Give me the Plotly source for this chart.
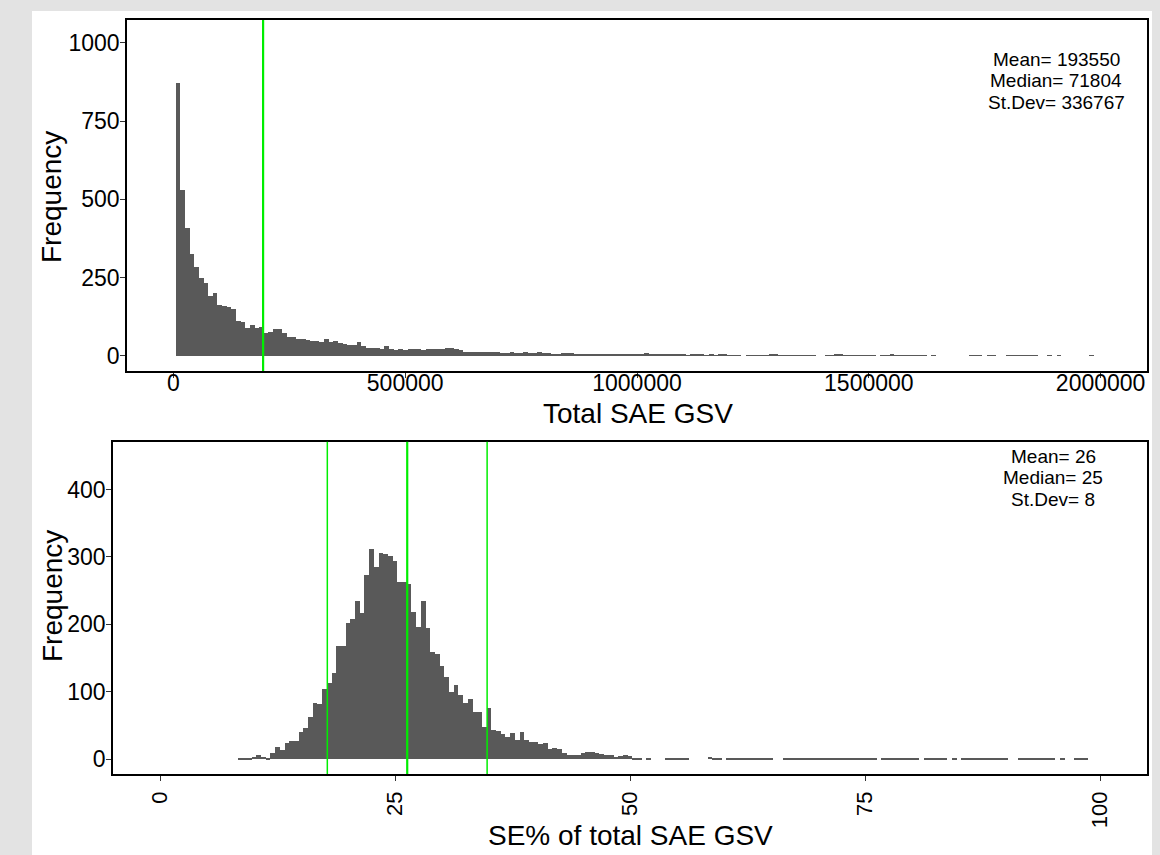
import plotly.graph_objects as go

# ---------------- data ----------------
# Top panel: histogram of Total SAE GSV (bin width 10000, first bin centred at 10000)
gsv_bin_width = 10000
gsv_first_center = 10000
gsv_counts = [
    873, 529, 407, 324, 284, 249, 233, 191, 199, 162,
    159, 155, 148, 111, 109, 87, 97, 87, 93, 71,
    76, 84, 85, 73, 61, 61, 52, 54, 50, 48,
    46, 45, 52, 44, 46, 39, 37, 35, 33, 44,
    31, 24, 24, 23, 20, 31, 20, 18, 21, 18,
    22, 22,
    20, 19, 21, 20, 22, 20, 25, 26, 22, 18,
    13, 12, 12, 11, 12, 11, 12, 11,
    10, 9, 11, 10, 9, 11, 10, 8, 12, 10,
    7, 6, 6, 8, 8, 7, 6, 6, 5, 6, 5,
    4, 4, 3, 4, 4, 3, 4,
    6, 5, 6, 7, 6, 5, 5, 4,
    3, 3, 4, 3, 2, 3, 3, 5, 2, 3, 2, 3, 4, 2, 1, 2, 0, 2,
    2, 2, 2, 1, 3, 3, 2, 1, 2, 1,
    2, 2, 1, 1, 0, 0, 1, 1, 3, 3,
    2, 1, 2, 1, 2, 1, 1, 0, 1, 2,
    3, 2, 1, 2, 2, 1, 1, 1, 0, 1,
    0, 0, 0, 0, 0, 0, 0, 1, 1, 1,
    0, 1, 1, 0, 0, 1, 1, 2, 1, 1,
    1, 1, 0, 0, 1, 0, 1, 0, 0, 0,
    0, 0, 0, 1,
]
gsv_mean = 193550
gsv_median = 71804
gsv_sd = 336767

# Bottom panel: histogram of SE% (bin width 0.5, first bin 8.25-8.75)
se_bin_width = 0.5
se_first_left = 8.25
se_counts = [
    1, 1, 1, 3, 6, 4, 2, 9, 18, 14,
    24, 28, 28, 41, 47, 63, 84, 83, 105, 114,
    129, 169, 169, 203, 209, 235, 218, 273, 313, 286,
    307, 305, 302, 295, 264, 264, 260, 219, 197, 235,
    195, 160, 156, 138, 123, 100, 110, 95, 84, 90,
    70, 70, 48, 76, 43, 42, 38, 33, 39, 29,
    41, 29, 26, 26, 23, 25, 16, 17, 15, 10,
    6, 6, 7, 9, 11, 11, 9, 8, 6, 6,
    4, 5, 6, 5, 1, 1, 0, 2, 0, 0,
    0, 1, 1, 2, 2, 2, 0, 0, 0, 0,
    4, 2, 2, 0, 1, 1, 1, 1, 1, 1,
    1, 1, 1, 1, 0, 0, 1, 1, 1, 1,
    1, 1, 1, 1, 1, 1, 1, 2, 1, 1,
    1, 2, 1, 1, 1, 1, 0, 1, 1, 1,
    1, 1, 1, 1, 1, 0, 1, 1, 1, 1,
    1, 0, 1, 0, 1, 1, 1, 1, 1, 1,
    1, 1, 1, 1, 0, 0, 1, 1, 1, 1,
    1, 1, 1, 1, 0, 1, 0, 0, 1, 1,
    1,
]
se_mean = 26.3
se_sd = 8.5
se_mean_label = 26
se_median_label = 25
se_sd_label = 8

top_xticks = [0, 500000, 1000000, 1500000, 2000000]
top_yticks = [0, 250, 500, 750, 1000]
bot_xticks = [0, 25, 50, 75, 100]
bot_yticks = [0, 100, 200, 300, 400]

# ---------------- figure ----------------
W, H = 1160, 855
def fx(p):
    return p / W
def fy(p):
    return 1 - p / H

BAR = "#595959"
GREEN = "#00EE00"
FONT = "Liberation Sans, Arial, sans-serif"

gsv_x = [gsv_first_center + i * gsv_bin_width for i in range(len(gsv_counts))]
se_x = [se_first_left + se_bin_width / 2 + i * se_bin_width for i in range(len(se_counts))]

fig = go.Figure()
fig.add_trace(go.Bar(x=gsv_x, y=gsv_counts, width=gsv_bin_width, marker=dict(color=BAR, line=dict(width=0)),
                     xaxis="x", yaxis="y", showlegend=False, hoverinfo="skip"))
fig.add_trace(go.Bar(x=se_x, y=se_counts, width=se_bin_width, marker=dict(color=BAR, line=dict(width=0)),
                     xaxis="x2", yaxis="y2", showlegend=False, hoverinfo="skip"))

axis_common = dict(showline=True, mirror=True, linecolor="black", linewidth=1.5,
                   ticks="outside", ticklen=5, tickwidth=1, tickcolor="#333333",
                   showgrid=False, zeroline=False)
tick23 = dict(family=FONT, size=23, color="black")
tick22 = dict(family=FONT, size=22, color="black")

fig.update_layout(
    width=W, height=H,
    margin=dict(l=0, r=0, t=0, b=0),
    paper_bgcolor="#e3e3e3",
    plot_bgcolor="white",
    bargap=0,
    xaxis=dict(domain=[fx(127), fx(1147)], range=[-100000, 2100000], tickvals=top_xticks,
               ticktext=[str(v) for v in top_xticks], anchor="y", ticklabelstandoff=-14,
               tickfont=tick23, **axis_common),
    yaxis=dict(domain=[fy(371), fy(20)], range=[-49, 1073], tickvals=top_yticks, anchor="x",
               ticklabelstandoff=-4, tickfont=tick23, **axis_common),
    xaxis2=dict(domain=[fx(113), fx(1147)], range=[-5, 105], tickvals=bot_xticks, tickangle=-90,
                anchor="y2", ticklabelstandoff=2, tickfont=tick22, **axis_common),
    yaxis2=dict(domain=[fy(774), fy(441.7)], range=[-22, 471], tickvals=bot_yticks, anchor="x2",
                ticklabelstandoff=-4, tickfont=tick23, **axis_common),
)

shapes = [
    dict(type="rect", xref="paper", yref="paper", x0=fx(32), x1=fx(1152), y0=0, y1=fy(11),
         fillcolor="white", line=dict(width=0), layer="below"),
    dict(type="line", xref="x", yref="y domain", x0=gsv_mean, x1=gsv_mean, y0=0, y1=1,
         line=dict(color=GREEN, width=2.2)),
    dict(type="line", xref="x2", yref="y2 domain", x0=se_mean, x1=se_mean, y0=0, y1=1,
         line=dict(color=GREEN, width=2.2)),
    dict(type="line", xref="x2", yref="y2 domain", x0=se_mean - se_sd, x1=se_mean - se_sd, y0=0, y1=1,
         line=dict(color=GREEN, width=1.5)),
    dict(type="line", xref="x2", yref="y2 domain", x0=se_mean + se_sd, x1=se_mean + se_sd, y0=0, y1=1,
         line=dict(color=GREEN, width=1.5)),
]
fig.update_layout(shapes=shapes)

def ann(text, x, y, size, angle=0):
    return dict(text=text, xref="paper", yref="paper", x=fx(x), y=fy(y), xanchor="center", yanchor="middle",
                showarrow=False, textangle=angle, font=dict(family=FONT, size=size, color="black"))

annotations = [
    ann("Total SAE GSV", 638, 414, 28),
    ann("SE% of total SAE GSV", 630, 835, 28),
    ann("Frequency", 52, 197, 28, -90),
    ann("Frequency", 52, 596, 28, -90),
    ann(f"Mean= {gsv_mean}", 1056, 59.5, 19),
    ann(f"Median= {gsv_median}", 1056, 81, 19),
    ann(f"St.Dev= {gsv_sd}", 1056, 102.5, 19),
    ann(f"Mean= {se_mean_label}", 1053, 456, 19),
    ann(f"Median= {se_median_label}", 1053, 477.5, 19),
    ann(f"St.Dev= {se_sd_label}", 1053, 499, 19),
]
fig.update_layout(annotations=annotations)

fig.write_html("out.html", config={"displayModeBar": False},
               post_script="document.body.style.margin='0';document.body.style.overflow='hidden';")
